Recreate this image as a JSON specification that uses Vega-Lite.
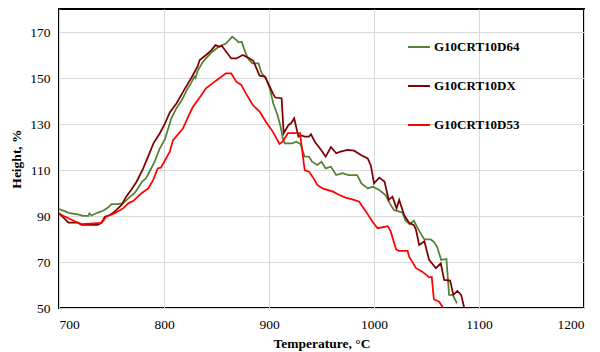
{
  "$schema": "https://vega.github.io/schema/vega-lite/v6.json",
  "width": 525,
  "height": 299,
  "autosize": {"type": "none"},
  "padding": {"left": 59, "top": 9, "right": 16, "bottom": 44},
  "background": "white",
  "config": {
    "font": "Liberation Serif",
    "view": {"stroke": "black", "strokeWidth": 2}
  },
  "data": {
    "values": [
      {"sample":"G10CRT10D64","temp":700,"height":93},{"sample":"G10CRT10D64","temp":706,"height":92},{"sample":"G10CRT10D64","temp":710,"height":91.2},{"sample":"G10CRT10D64","temp":718,"height":90.7},{"sample":"G10CRT10D64","temp":723,"height":90.1},{"sample":"G10CRT10D64","temp":728,"height":90.1},{"sample":"G10CRT10D64","temp":729,"height":91.2},{"sample":"G10CRT10D64","temp":731,"height":90.2},{"sample":"G10CRT10D64","temp":737,"height":91.5},{"sample":"G10CRT10D64","temp":742,"height":92.3},{"sample":"G10CRT10D64","temp":747,"height":93.8},{"sample":"G10CRT10D64","temp":750,"height":95.2},{"sample":"G10CRT10D64","temp":756,"height":95.2},{"sample":"G10CRT10D64","temp":761,"height":95.5},{"sample":"G10CRT10D64","temp":766,"height":97.7},{"sample":"G10CRT10D64","temp":772,"height":100},{"sample":"G10CRT10D64","temp":775,"height":102},{"sample":"G10CRT10D64","temp":779,"height":104.9},{"sample":"G10CRT10D64","temp":783,"height":106.5},{"sample":"G10CRT10D64","temp":787,"height":110},{"sample":"G10CRT10D64","temp":791,"height":113.5},{"sample":"G10CRT10D64","temp":796,"height":119.4},{"sample":"G10CRT10D64","temp":801,"height":123.5},{"sample":"G10CRT10D64","temp":807,"height":132.5},{"sample":"G10CRT10D64","temp":812,"height":137},{"sample":"G10CRT10D64","temp":817,"height":140.4},{"sample":"G10CRT10D64","temp":822,"height":145},{"sample":"G10CRT10D64","temp":826,"height":148},{"sample":"G10CRT10D64","temp":829,"height":150.6},{"sample":"G10CRT10D64","temp":830,"height":150},{"sample":"G10CRT10D64","temp":832,"height":153},{"sample":"G10CRT10D64","temp":837,"height":157},{"sample":"G10CRT10D64","temp":840,"height":158.5},{"sample":"G10CRT10D64","temp":845,"height":161},{"sample":"G10CRT10D64","temp":852,"height":163.6},{"sample":"G10CRT10D64","temp":855,"height":164.2},{"sample":"G10CRT10D64","temp":859,"height":165},{"sample":"G10CRT10D64","temp":865,"height":168},{"sample":"G10CRT10D64","temp":869,"height":166.5},{"sample":"G10CRT10D64","temp":871,"height":165.5},{"sample":"G10CRT10D64","temp":874,"height":165.8},{"sample":"G10CRT10D64","temp":878,"height":160.5},{"sample":"G10CRT10D64","temp":880,"height":158.5},{"sample":"G10CRT10D64","temp":884,"height":156.4},{"sample":"G10CRT10D64","temp":890,"height":156.4},{"sample":"G10CRT10D64","temp":893,"height":152},{"sample":"G10CRT10D64","temp":897,"height":150},{"sample":"G10CRT10D64","temp":901,"height":145},{"sample":"G10CRT10D64","temp":904,"height":139},{"sample":"G10CRT10D64","temp":908,"height":134},{"sample":"G10CRT10D64","temp":911,"height":129},{"sample":"G10CRT10D64","temp":913,"height":124},{"sample":"G10CRT10D64","temp":915,"height":121.6},{"sample":"G10CRT10D64","temp":922,"height":121.6},{"sample":"G10CRT10D64","temp":926,"height":122.3},{"sample":"G10CRT10D64","temp":930,"height":121.3},{"sample":"G10CRT10D64","temp":934,"height":115.8},{"sample":"G10CRT10D64","temp":938,"height":115.8},{"sample":"G10CRT10D64","temp":941,"height":113.6},{"sample":"G10CRT10D64","temp":946,"height":112.2},{"sample":"G10CRT10D64","temp":950,"height":113.6},{"sample":"G10CRT10D64","temp":954,"height":110.7},{"sample":"G10CRT10D64","temp":959,"height":111.4},{"sample":"G10CRT10D64","temp":964,"height":107.8},{"sample":"G10CRT10D64","temp":970,"height":108.6},{"sample":"G10CRT10D64","temp":976,"height":107.8},{"sample":"G10CRT10D64","temp":984,"height":107.8},{"sample":"G10CRT10D64","temp":988,"height":104.2},{"sample":"G10CRT10D64","temp":994,"height":102},{"sample":"G10CRT10D64","temp":999,"height":102.7},{"sample":"G10CRT10D64","temp":1005,"height":101.3},{"sample":"G10CRT10D64","temp":1011,"height":99.1},{"sample":"G10CRT10D64","temp":1015,"height":95.5},{"sample":"G10CRT10D64","temp":1019,"height":92.6},{"sample":"G10CRT10D64","temp":1024,"height":91.9},{"sample":"G10CRT10D64","temp":1027,"height":91.5},{"sample":"G10CRT10D64","temp":1030,"height":88},{"sample":"G10CRT10D64","temp":1034,"height":86.4},{"sample":"G10CRT10D64","temp":1038,"height":88},{"sample":"G10CRT10D64","temp":1041,"height":85.3},{"sample":"G10CRT10D64","temp":1045,"height":82},{"sample":"G10CRT10D64","temp":1048,"height":79.8},{"sample":"G10CRT10D64","temp":1054,"height":79.8},{"sample":"G10CRT10D64","temp":1057,"height":78.8},{"sample":"G10CRT10D64","temp":1060,"height":76.7},{"sample":"G10CRT10D64","temp":1064,"height":70.9},{"sample":"G10CRT10D64","temp":1069,"height":71.3},{"sample":"G10CRT10D64","temp":1071.5,"height":55.7},{"sample":"G10CRT10D64","temp":1075,"height":55.7},{"sample":"G10CRT10D64","temp":1079,"height":52},

      {"sample":"G10CRT10DX","temp":700,"height":91.2},{"sample":"G10CRT10DX","temp":704,"height":89.4},{"sample":"G10CRT10DX","temp":709,"height":87.1},{"sample":"G10CRT10DX","temp":718,"height":87.1},{"sample":"G10CRT10DX","temp":721.5,"height":86.1},{"sample":"G10CRT10DX","temp":737,"height":86.1},{"sample":"G10CRT10DX","temp":740.6,"height":87.1},{"sample":"G10CRT10DX","temp":743.7,"height":89.7},{"sample":"G10CRT10DX","temp":748.5,"height":90.4},{"sample":"G10CRT10DX","temp":753,"height":91.9},{"sample":"G10CRT10DX","temp":759.6,"height":94.8},{"sample":"G10CRT10DX","temp":764,"height":98.4},{"sample":"G10CRT10DX","temp":769,"height":101.5},{"sample":"G10CRT10DX","temp":774,"height":105},{"sample":"G10CRT10DX","temp":780,"height":110.5},{"sample":"G10CRT10DX","temp":785,"height":116},{"sample":"G10CRT10DX","temp":790,"height":121.6},{"sample":"G10CRT10DX","temp":796,"height":126},{"sample":"G10CRT10DX","temp":801,"height":130.3},{"sample":"G10CRT10DX","temp":805.5,"height":135},{"sample":"G10CRT10DX","temp":812,"height":139},{"sample":"G10CRT10DX","temp":820,"height":145.5},{"sample":"G10CRT10DX","temp":826,"height":150},{"sample":"G10CRT10DX","temp":832,"height":155},{"sample":"G10CRT10DX","temp":834,"height":157.8},{"sample":"G10CRT10DX","temp":840,"height":160},{"sample":"G10CRT10DX","temp":845,"height":162},{"sample":"G10CRT10DX","temp":849,"height":164.3},{"sample":"G10CRT10DX","temp":853,"height":163.6},{"sample":"G10CRT10DX","temp":855,"height":164},{"sample":"G10CRT10DX","temp":858,"height":162.2},{"sample":"G10CRT10DX","temp":864,"height":158.5},{"sample":"G10CRT10DX","temp":869,"height":158.5},{"sample":"G10CRT10DX","temp":875,"height":160},{"sample":"G10CRT10DX","temp":881.5,"height":158.5},{"sample":"G10CRT10DX","temp":885,"height":157.5},{"sample":"G10CRT10DX","temp":891,"height":151},{"sample":"G10CRT10DX","temp":896,"height":150.6},{"sample":"G10CRT10DX","temp":900,"height":147},{"sample":"G10CRT10DX","temp":904,"height":143},{"sample":"G10CRT10DX","temp":906,"height":141.5},{"sample":"G10CRT10DX","temp":912,"height":141.2},{"sample":"G10CRT10DX","temp":914,"height":126},{"sample":"G10CRT10DX","temp":918.6,"height":129.6},{"sample":"G10CRT10DX","temp":921,"height":130.3},{"sample":"G10CRT10DX","temp":924,"height":132.5},{"sample":"G10CRT10DX","temp":928,"height":124.5},{"sample":"G10CRT10DX","temp":931,"height":125},{"sample":"G10CRT10DX","temp":934,"height":124.5},{"sample":"G10CRT10DX","temp":938,"height":124.5},{"sample":"G10CRT10DX","temp":940,"height":125.5},{"sample":"G10CRT10DX","temp":944,"height":122},{"sample":"G10CRT10DX","temp":949.6,"height":118.7},{"sample":"G10CRT10DX","temp":954,"height":115.8},{"sample":"G10CRT10DX","temp":959,"height":120},{"sample":"G10CRT10DX","temp":964,"height":117.3},{"sample":"G10CRT10DX","temp":968,"height":118},{"sample":"G10CRT10DX","temp":975,"height":118.7},{"sample":"G10CRT10DX","temp":981,"height":118.4},{"sample":"G10CRT10DX","temp":987.6,"height":116.5},{"sample":"G10CRT10DX","temp":994,"height":115},{"sample":"G10CRT10DX","temp":997,"height":112},{"sample":"G10CRT10DX","temp":1000,"height":104.2},{"sample":"G10CRT10DX","temp":1005,"height":106.7},{"sample":"G10CRT10DX","temp":1010,"height":105},{"sample":"G10CRT10DX","temp":1014,"height":97},{"sample":"G10CRT10DX","temp":1017.6,"height":98.4},{"sample":"G10CRT10DX","temp":1021.5,"height":93.3},{"sample":"G10CRT10DX","temp":1024,"height":97},{"sample":"G10CRT10DX","temp":1028.7,"height":90.4},{"sample":"G10CRT10DX","temp":1033.5,"height":87},{"sample":"G10CRT10DX","temp":1038,"height":86},{"sample":"G10CRT10DX","temp":1040,"height":84},{"sample":"G10CRT10DX","temp":1043,"height":77.4},{"sample":"G10CRT10DX","temp":1048,"height":79},{"sample":"G10CRT10DX","temp":1052.5,"height":70.9},{"sample":"G10CRT10DX","temp":1059,"height":67.3},{"sample":"G10CRT10DX","temp":1063.6,"height":69.4},{"sample":"G10CRT10DX","temp":1066.8,"height":62.2},{"sample":"G10CRT10DX","temp":1072.5,"height":61.9},{"sample":"G10CRT10DX","temp":1075.6,"height":55.7},{"sample":"G10CRT10DX","temp":1079.4,"height":57.4},{"sample":"G10CRT10DX","temp":1083,"height":55.7},{"sample":"G10CRT10DX","temp":1086,"height":50},

      {"sample":"G10CRT10D53","temp":700,"height":91},{"sample":"G10CRT10D53","temp":709,"height":89},{"sample":"G10CRT10D53","temp":718,"height":87.1},{"sample":"G10CRT10D53","temp":721.5,"height":86.5},{"sample":"G10CRT10D53","temp":740.6,"height":87},{"sample":"G10CRT10D53","temp":745,"height":89.7},{"sample":"G10CRT10D53","temp":753,"height":91.2},{"sample":"G10CRT10D53","temp":761,"height":93.3},{"sample":"G10CRT10D53","temp":766,"height":95.5},{"sample":"G10CRT10D53","temp":770.6,"height":96.5},{"sample":"G10CRT10D53","temp":778.6,"height":99.9},{"sample":"G10CRT10D53","temp":785,"height":102},{"sample":"G10CRT10D53","temp":789.6,"height":105.6},{"sample":"G10CRT10D53","temp":794,"height":110.7},{"sample":"G10CRT10D53","temp":797,"height":111},{"sample":"G10CRT10D53","temp":805.5,"height":118},{"sample":"G10CRT10D53","temp":808.6,"height":123},{"sample":"G10CRT10D53","temp":818,"height":128},{"sample":"G10CRT10D53","temp":824.5,"height":134.6},{"sample":"G10CRT10D53","temp":827.6,"height":137.5},{"sample":"G10CRT10D53","temp":834,"height":141.5},{"sample":"G10CRT10D53","temp":840,"height":145.5},{"sample":"G10CRT10D53","temp":847,"height":148},{"sample":"G10CRT10D53","temp":853,"height":150},{"sample":"G10CRT10D53","temp":859,"height":152},{"sample":"G10CRT10D53","temp":864,"height":152},{"sample":"G10CRT10D53","temp":868.8,"height":148.4},{"sample":"G10CRT10D53","temp":873.6,"height":147},{"sample":"G10CRT10D53","temp":878,"height":143.3},{"sample":"G10CRT10D53","temp":884.5,"height":138.3},{"sample":"G10CRT10D53","temp":891,"height":135.4},{"sample":"G10CRT10D53","temp":897,"height":131},{"sample":"G10CRT10D53","temp":903.6,"height":126.7},{"sample":"G10CRT10D53","temp":910,"height":121.3},{"sample":"G10CRT10D53","temp":913,"height":122.3},{"sample":"G10CRT10D53","temp":918,"height":126},{"sample":"G10CRT10D53","temp":929.5,"height":126},{"sample":"G10CRT10D53","temp":934,"height":110},{"sample":"G10CRT10D53","temp":938,"height":109.3},{"sample":"G10CRT10D53","temp":941.6,"height":107},{"sample":"G10CRT10D53","temp":946,"height":103.5},{"sample":"G10CRT10D53","temp":951,"height":102},{"sample":"G10CRT10D53","temp":961,"height":100.6},{"sample":"G10CRT10D53","temp":967,"height":99.1},{"sample":"G10CRT10D53","temp":973,"height":98},{"sample":"G10CRT10D53","temp":981,"height":97},{"sample":"G10CRT10D53","temp":986,"height":96.2},{"sample":"G10CRT10D53","temp":988,"height":94.8},{"sample":"G10CRT10D53","temp":992.4,"height":91.9},{"sample":"G10CRT10D53","temp":998.6,"height":87.5},{"sample":"G10CRT10D53","temp":1003.4,"height":84.7},{"sample":"G10CRT10D53","temp":1010,"height":85.3},{"sample":"G10CRT10D53","temp":1013,"height":85.6},{"sample":"G10CRT10D53","temp":1016,"height":83.2},{"sample":"G10CRT10D53","temp":1021,"height":75.5},{"sample":"G10CRT10D53","temp":1024,"height":74.8},{"sample":"G10CRT10D53","temp":1032,"height":74.8},{"sample":"G10CRT10D53","temp":1033.5,"height":72.3},{"sample":"G10CRT10D53","temp":1040,"height":67.3},{"sample":"G10CRT10D53","temp":1046,"height":65.8},{"sample":"G10CRT10D53","temp":1052.5,"height":63.3},{"sample":"G10CRT10D53","temp":1055,"height":63.5},{"sample":"G10CRT10D53","temp":1057,"height":53.8},{"sample":"G10CRT10D53","temp":1062,"height":52.7},{"sample":"G10CRT10D53","temp":1066,"height":50}
    ]
  },
  "mark": {"type": "line", "strokeWidth": 1.75, "clip": true},
  "encoding": {
    "x": {
      "field": "temp", "type": "quantitative",
      "scale": {"domain": [700, 1200], "nice": false, "zero": false},
      "axis": {
        "title": "Temperature, °C",
        "values": [700, 800, 900, 1000, 1100, 1200],
        "format": "d",
        "grid": true, "gridColor": "#d9d9d9", "gridWidth": 1,
        "domain": false, "ticks": false,
        "labelFont": "Liberation Serif", "labelFontSize": 13.5, "labelColor": "#000", "labelPadding": 9,
        "titleFont": "Liberation Serif", "titleFontSize": 13.5, "titleFontWeight": "bold", "titleColor": "#000", "titlePadding": 6
      }
    },
    "y": {
      "field": "height", "type": "quantitative",
      "scale": {"domain": [50, 180], "nice": false, "zero": false},
      "axis": {
        "title": "Height, %",
        "values": [50, 70, 90, 110, 130, 150, 170],
        "grid": true, "gridColor": "#d9d9d9", "gridWidth": 1,
        "domain": false, "ticks": false,
        "labelFont": "Liberation Serif", "labelFontSize": 13.5, "labelColor": "#000", "labelPadding": 9,
        "titleFont": "Liberation Serif", "titleFontSize": 13.5, "titleFontWeight": "bold", "titleColor": "#000", "titlePadding": 6
      }
    },
    "color": {
      "field": "sample", "type": "nominal",
      "scale": {
        "domain": ["G10CRT10D64", "G10CRT10DX", "G10CRT10D53"],
        "range": ["#538135", "#7f0000", "#ff0000"]
      },
      "legend": {
        "title": null,
        "orient": "none",
        "legendX": 348,
        "legendY": 26,
        "symbolType": "stroke",
        "symbolSize": 480,
        "symbolStrokeWidth": 2,
        "labelFont": "Liberation Serif", "labelFontSize": 13, "labelFontWeight": "bold", "labelColor": "#000",
        "labelOffset": 3,
        "rowPadding": 20
      }
    }
  }
}
